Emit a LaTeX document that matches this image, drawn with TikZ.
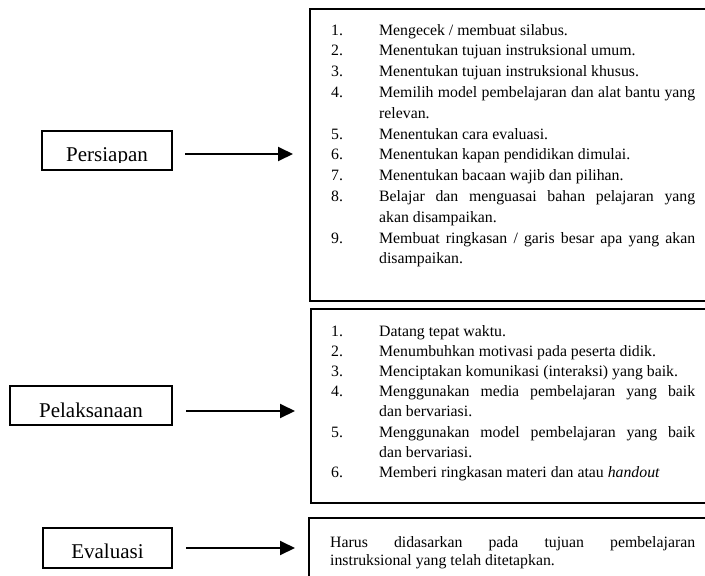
\documentclass[tikz,border=0pt]{standalone}
\usepackage{fontspec}
\setmainfont{Liberation Serif}
\usepackage{array}
\usetikzlibrary{arrows.meta,calc}
\tikzset{
  bigbox/.style={draw, line width=2.2pt, inner sep=0pt, outer sep=0pt, anchor=north west},
  lblbox/.style={draw, line width=1.8pt, inner sep=0pt, outer sep=0pt, anchor=north west, minimum height=39pt},
  lbltext/.style={inner sep=0pt, anchor=base, font=\fontsize{21}{25}\selectfont},
  listtext/.style={inner sep=0pt, anchor=base west, font=\fontsize{15.8}{20.3}\selectfont},
  flow/.style={line width=2pt, -{Triangle[length=15pt,width=14pt]}},
}
\begin{document}
\begin{tikzpicture}[x=1pt,y=-1pt]
\useasboundingbox (0,0) rectangle (705,576);
\hyphenpenalty=10000
% big boxes
\node[bigbox, minimum width=402pt, minimum height=292pt] (box1) at (310,9) {};
\node[bigbox, minimum width=401pt, minimum height=194pt] (box2) at (311,309) {};
\node[bigbox, minimum width=403pt, minimum height=80pt] (box3) at (309,518) {};
% label boxes
\node[lblbox, minimum width=130pt] (persiapan) at (42,131) {};
\node[lblbox, minimum width=162pt] (pelaksanaan) at (10,386) {};
\node[lblbox, minimum width=129pt, minimum height=40pt] (evaluasi) at (43,528) {};
\begin{scope}
  \clip (persiapan.north west) rectangle ($(persiapan.south east)+(0,-7.5)$);
  \node[lbltext] (persiapanT) at ($(persiapan.south)+(0,-9)$) {Persiapan};
\end{scope}
\begin{scope}
  \clip (pelaksanaan.north west) rectangle ($(pelaksanaan.south east)+(0,-6.5)$);
  \node[lbltext] (pelaksanaanT) at ($(pelaksanaan.south)+(0,-8)$) {Pelaksanaan};
\end{scope}
\begin{scope}
  \clip (evaluasi.north west) rectangle ($(evaluasi.south east)+(0,-8.5)$);
  \node[lbltext] (evaluasiT) at ($(evaluasi.south)+(0,-10)$) {Evaluasi};
\end{scope}
% lists
\node[listtext, font=\fontsize{15.8}{20.8}\selectfont] (prepList) at (331,35) {\begin{tabular}[t]{@{}p{48pt}@{}p{316pt}@{}}
1. & Mengecek / membuat silabus.\\
2. & Menentukan tujuan instruksional umum.\\
3. & Menentukan tujuan instruksional khusus.\\
4. & Memilih model pembelajaran dan alat bantu yang\linebreak relevan.\\
5. & Menentukan cara evaluasi.\\
6. & Menentukan kapan pendidikan dimulai.\\
7. & Menentukan bacaan wajib dan pilihan.\\
8. & Belajar dan menguasai bahan pelajaran yang\linebreak akan disampaikan.\\
9. & Membuat ringkasan / garis besar apa yang akan\linebreak disampaikan.
\end{tabular}};
\node[listtext, font=\fontsize{15.8}{20.2}\selectfont] (doList) at (331,336) {\begin{tabular}[t]{@{}p{48pt}@{}p{316pt}@{}}
1. & Datang tepat waktu.\\
2. & Menumbuhkan motivasi pada peserta didik.\\
3. & Menciptakan komunikasi (interaksi) yang baik.\\
4. & Menggunakan media pembelajaran yang baik\linebreak dan bervariasi.\\
5. & Menggunakan model pembelajaran yang baik\linebreak dan bervariasi.\\
6. & Memberi ringkasan materi dan atau \textit{handout}
\end{tabular}};
\node[listtext, font=\fontsize{15.8}{18.5}\selectfont] (evalText) at (330,547) {\parbox[t]{365pt}{Harus didasarkan pada tujuan pembelajaran\linebreak instruksional yang telah ditetapkan.}};
% arrows
\draw[flow] ($(persiapan.east)+(13,3.5)$) -- ($(persiapan.east -| box1.west)+(-17,3.5)$);
\draw[flow] ($(pelaksanaan.east)+(14,5.5)$) -- ($(pelaksanaan.east -| box2.west)+(-16,5.5)$);
\draw[flow] ($(evaluasi.east)+(14,0)$) -- ($(evaluasi.east -| box3.west)+(-14,0)$);
\end{tikzpicture}
\end{document}
